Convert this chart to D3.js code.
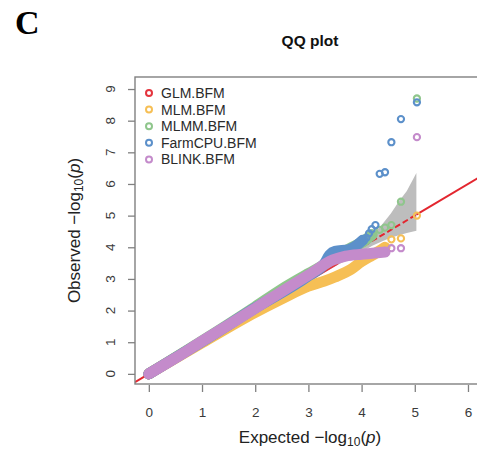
<!DOCTYPE html>
<html>
<head>
<meta charset="utf-8">
<script src="https://cdn.jsdelivr.net/npm/d3@7"></script>
<style>
  body { margin: 0; background: #fff; }
  svg { display: block; }
  text { font-family: "Liberation Sans", Arial, Helvetica, sans-serif; }
</style>
</head>
<body>
<svg id="chart" width="477" height="454"></svg>
<script>
// ---- data -------------------------------------------------------------
const traits = ["GLM.BFM", "MLM.BFM", "MLMM.BFM", "FarmCPU.BFM", "BLINK.BFM"];
const traitColors = ["#E4353E", "#F6BF55", "#8FC68C", "#5C90CA", "#C48BCB"];

// dense part of each QQ curve, [expected, observed] in -log10(p)
const glmDense = [[0, 0], [1, 1.02], [2, 2.06], [3, 3.1], [3.5, 3.6]];
const mlmDense = [[0, 0], [1, 0.98], [2, 1.94], [2.5, 2.37], [3, 2.77], [3.3, 2.93],
                  [3.5, 3.06], [3.8, 3.3], [4.0, 3.55], [4.2, 3.75], [4.35, 3.9], [4.44, 4.0]];
const mlmmDense = [[0, 0], [1, 1.04], [2, 2.12], [2.5, 2.68], [3, 3.17], [3.3, 3.45],
                   [3.5, 3.68], [3.8, 3.98], [4.0, 4.15], [4.2, 4.4]];
const farmcpuDense = [[0, 0], [1, 1.02], [2, 2.08], [3, 3.1], [3.3, 3.48], [3.4, 3.76],
                      [3.5, 3.87], [3.75, 3.92], [3.9, 4.05], [4.02, 4.22]];
const blinkDense = [[0, 0], [0.5, 0.5], [1, 1.03], [1.5, 1.55], [2, 2.07], [2.5, 2.6],
                    [3, 3.12], [3.46, 3.6], [3.7, 3.72], [4.0, 3.78], [4.2, 3.81], [4.44, 3.85]];

// sparse top markers, [expected, observed]
const glmTop = [];
const mlmTop = [[4.56, 4.25], [4.74, 4.28], [5.04, 5.0]];
const mlmmTop = [[4.34, 4.55], [4.44, 4.62], [4.56, 4.7], [4.74, 5.44], [5.04, 8.70]];
const farmcpuTop = [[4.04, 4.26], [4.09, 4.3], [4.14, 4.44], [4.19, 4.57], [4.26, 4.70],
                    [4.34, 6.32], [4.44, 6.37], [4.56, 7.32], [4.74, 8.05], [5.04, 8.58]];
const blinkTop = [[4.56, 3.97], [4.74, 3.97], [5.04, 7.48]];

// confidence band around the diagonal
const bandExpected = [0, 3.0, 3.5, 3.9, 4.2, 4.4, 4.55, 4.7, 4.85, 5.03];
const bandUpper    = [0.03, 3.07, 3.6, 4.05, 4.38, 4.75, 5.07, 5.45, 5.78, 6.35];
const bandLower    = [-0.03, 2.93, 3.4, 3.75, 4.05, 4.2, 4.3, 4.38, 4.45, 4.52];

const xTicks = [0, 1, 2, 3, 4, 5, 6];
const yTicks = [0, 1, 2, 3, 4, 5, 6, 7, 8, 9];

const denseSets = [glmDense, mlmDense, mlmmDense, farmcpuDense, blinkDense];
const topSets = [glmTop, mlmTop, mlmmTop, farmcpuTop, blinkTop];

// ---- layout -----------------------------------------------------------
const svg = d3.select("#chart");
const box = { left: 135, right: 485, top: 77, bottom: 384 };

const x = d3.scaleLinear().domain([-0.26, 6.32]).range([box.left, box.right]);
const y = d3.scaleLinear().domain([-0.32, 9.38]).range([box.bottom, box.top]);

svg.append("defs").append("clipPath").attr("id", "plotClip")
  .append("rect")
  .attr("x", box.left).attr("y", box.top)
  .attr("width", box.right - box.left).attr("height", box.bottom - box.top);

const plot = svg.append("g").attr("clip-path", "url(#plotClip)");

// confidence band
const bandData = bandExpected.map((e, i) => ({ e, lo: bandLower[i], hi: bandUpper[i] }));
plot.append("path")
  .datum(bandData)
  .attr("fill", "#BDBDBD")
  .attr("d", d3.area().x(d => x(d.e)).y0(d => y(d.lo)).y1(d => y(d.hi)));

// diagonal reference line
const [d0, d1] = x.domain();
const bandTop = bandExpected[bandExpected.length - 1];
const diag = d3.line().x(d => x(d)).y(d => y(d));
plot.append("path").attr("d", diag([d0, 3.9]))
  .attr("stroke", "#E3262F").attr("stroke-width", 2).attr("fill", "none");
plot.append("path").attr("d", diag([3.9, bandTop]))
  .attr("stroke", "#E3262F").attr("stroke-width", 2).attr("fill", "none")
  .attr("stroke-dasharray", "6,3");
plot.append("path").attr("d", diag([bandTop, d1]))
  .attr("stroke", "#E3262F").attr("stroke-width", 2).attr("fill", "none");

// points: dense runs as thick round-capped strokes, top hits as open circles
const track = d3.line().x(d => x(d[0])).y(d => y(d[1])).curve(d3.curveMonotoneX);
traits.forEach((t, i) => {
  const g = plot.append("g");
  if (denseSets[i].length) {
    g.append("path")
      .datum(denseSets[i])
      .attr("d", track)
      .attr("fill", "none")
      .attr("stroke", traitColors[i])
      .attr("stroke-width", 11)
      .attr("stroke-linecap", "round")
      .attr("stroke-linejoin", "round");
  }
  g.selectAll("circle")
    .data(topSets[i])
    .join("circle")
    .attr("cx", d => x(d[0]))
    .attr("cy", d => y(d[1]))
    .attr("r", 3.1)
    .attr("fill", "none")
    .attr("stroke", traitColors[i])
    .attr("stroke-width", 2.1);
});

// frame
svg.append("rect")
  .attr("x", box.left).attr("y", box.top)
  .attr("width", box.right - box.left).attr("height", box.bottom - box.top)
  .attr("fill", "none").attr("stroke", "#808080").attr("stroke-width", 1.4);

// x axis
const xAxis = svg.append("g")
  .attr("transform", `translate(0,${box.bottom + 1})`)
  .call(d3.axisBottom(x).tickValues(xTicks).tickSize(7).tickPadding(15).tickFormat(d3.format("d")));
xAxis.select(".domain").remove();
xAxis.selectAll(".tick line").attr("stroke", "#808080").attr("stroke-width", 1.3);
xAxis.selectAll(".tick text")
  .attr("fill", "#3a3a3a")
  .style("font-size", "13.5px")
  .style("font-family", "\"Liberation Sans\", Arial, sans-serif");

// y axis (labels turned to read upward)
const yAxis = svg.append("g")
  .attr("transform", `translate(${box.left},0)`)
  .call(d3.axisLeft(y).tickValues(yTicks).tickSize(7).tickFormat(""));
yAxis.select(".domain").remove();
yAxis.selectAll(".tick line").attr("stroke", "#808080").attr("stroke-width", 1.3);
svg.append("g").selectAll("text")
  .data(yTicks)
  .join("text")
  .attr("transform", d => `translate(115,${y(d)}) rotate(-90)`)
  .attr("text-anchor", "middle")
  .attr("fill", "#3a3a3a")
  .style("font-size", "13.5px")
  .text(d => d);

// axis titles
const xTitle = svg.append("text")
  .attr("x", (box.left + box.right) / 2).attr("y", 443)
  .attr("text-anchor", "middle")
  .attr("fill", "#222")
  .style("font-size", "17px");
xTitle.append("tspan").text("Expected  \u2212log");
xTitle.append("tspan").attr("baseline-shift", "-25%").style("font-size", "12px").text("10");
xTitle.append("tspan").text("(");
xTitle.append("tspan").style("font-style", "italic").text("p");
xTitle.append("tspan").text(")");

const yTitle = svg.append("text")
  .attr("transform", `translate(80,${(box.top + box.bottom) / 2}) rotate(-90)`)
  .attr("text-anchor", "middle")
  .attr("fill", "#222")
  .style("font-size", "17px");
yTitle.append("tspan").text("Observed  \u2212log");
yTitle.append("tspan").attr("baseline-shift", "-25%").style("font-size", "12px").text("10");
yTitle.append("tspan").text("(");
yTitle.append("tspan").style("font-style", "italic").text("p");
yTitle.append("tspan").text(")");

// chart title and panel letter
svg.append("text")
  .attr("x", (box.left + box.right) / 2).attr("y", 46)
  .attr("text-anchor", "middle")
  .attr("fill", "#111")
  .style("font-size", "15.5px").style("font-weight", "bold")
  .text("QQ plot");

svg.append("text")
  .attr("x", 15).attr("y", 34)
  .attr("fill", "#000")
  .style("font-family", "\"Liberation Serif\", \"Times New Roman\", serif")
  .style("font-size", "34px").style("font-weight", "bold")
  .text("C");

// legend
const legend = svg.append("g").selectAll("g")
  .data(traits)
  .join("g")
  .attr("transform", (d, i) => `translate(149,${93 + i * 16.6})`);
legend.append("circle")
  .attr("r", 3)
  .attr("fill", "none")
  .attr("stroke", (d, i) => traitColors[i])
  .attr("stroke-width", 2);
legend.append("text")
  .attr("x", 12).attr("y", 5)
  .attr("fill", "#2a2a2a")
  .style("font-size", "14px")
  .text(d => d);
</script>
</body>
</html>
